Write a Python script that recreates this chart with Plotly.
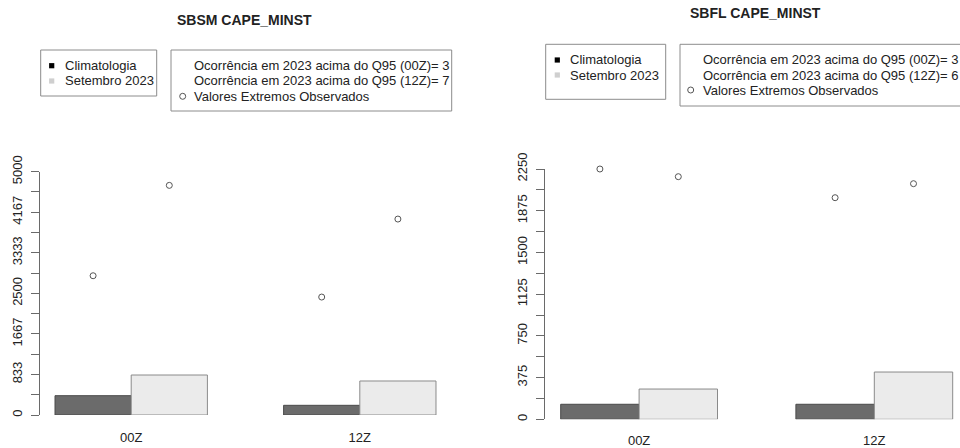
import plotly.graph_objects as go

# ---------------- data ----------------
categories = ["00Z", "12Z"]

sbsm_climatologia = [397, 199]
sbsm_setembro = [822, 699]
sbsm_ext_climatologia = [2862, 2424]
sbsm_ext_setembro = [4719, 4027]
sbsm_tick_labels = ["0", "833", "1667", "2500", "3333", "4167", "5000"]
sbsm_ymax = 5000
sbsm_q95 = [3, 7]

sbfl_climatologia = [135, 135]
sbfl_setembro = [272, 425]
sbfl_ext_climatologia = [2250, 1992]
sbfl_ext_setembro = [2181, 2118]
sbfl_tick_labels = ["0", "375", "750", "1125", "1500", "1875", "2250"]
sbfl_ymax = 2250
sbfl_q95 = [3, 6]

# ---------------- style ----------------
W, H = 960, 448
FONT = "Liberation Sans, Arial, Helvetica, sans-serif"
DARK = "#6b6b6b"
LIGHT = "#ebebeb"
EDGE = "#4a4a4a"
AXIS = "#6a6a6a"
TXT = "#222222"


def px(x):
    return x / W


def py(y):
    return 1 - y / H


fig = go.Figure()

# bar positions: groups of two bars (width 1) with one unit gap, like R barplot(beside=TRUE)
clim_x = [3 * i + 1.5 for i in range(len(categories))]
set_x = [3 * i + 2.5 for i in range(len(categories))]
cat_x = [3 * i + 2 for i in range(len(categories))]

panels = [
    dict(xa="x", ya="y", clim=sbsm_climatologia, sett=sbsm_setembro,
         ec=sbsm_ext_climatologia, es=sbsm_ext_setembro),
    dict(xa="x2", ya="y2", clim=sbfl_climatologia, sett=sbfl_setembro,
         ec=sbfl_ext_climatologia, es=sbfl_ext_setembro),
]

for p in panels:
    fig.add_trace(go.Bar(x=clim_x, y=p["clim"], width=1, xaxis=p["xa"], yaxis=p["ya"],
                         marker=dict(color=DARK, line=dict(color=EDGE, width=1)),
                         showlegend=False, name="Climatologia"))
    fig.add_trace(go.Bar(x=set_x, y=p["sett"], width=1, xaxis=p["xa"], yaxis=p["ya"],
                         marker=dict(color=LIGHT, line=dict(color="#8a8a8a", width=1)),
                         showlegend=False, name="Setembro 2023"))
    fig.add_trace(go.Scatter(x=clim_x + set_x, y=p["ec"] + p["es"], mode="markers",
                             xaxis=p["xa"], yaxis=p["ya"], cliponaxis=False,
                             marker=dict(symbol="circle-open", size=6, color="#555555",
                                         line=dict(width=1)),
                             showlegend=False, name="Valores Extremos Observados"))


def yticks(labels, ymax):
    n = (len(labels) - 1) * 2
    vals = [ymax * k / n for k in range(n + 1)]
    text = [labels[k // 2] if k % 2 == 0 else "" for k in range(n + 1)]
    return vals, text


v1, t1 = yticks(sbsm_tick_labels, sbsm_ymax)
v2, t2 = yticks(sbfl_tick_labels, sbfl_ymax)

common_x = dict(tickmode="array", tickvals=cat_x, ticktext=categories, ticks="",
                showline=False, showgrid=False, zeroline=False, automargin=False,
                tickfont=dict(family=FONT, size=13, color=TXT))
common_y = dict(tickmode="array", ticks="outside", ticklen=8, tickcolor=AXIS,
                showline=True, linecolor=AXIS, linewidth=1, showgrid=False,
                zeroline=False, tickangle=-90, automargin=False,
                tickfont=dict(family=FONT, size=13, color=TXT))

# left panel geometry (pixels)
L_x0, L_x1 = 39.76, 451.24
L_y0, L_y1 = 415.0, 171.7
# right panel geometry (pixels)
R_scale = 78.4
R_x0 = 560.7 - 0.2 * R_scale
R_xmax = 1 + (960 - 560.7) / R_scale
R_y0, R_y1 = 419.3, 169.0

fig.update_layout(
    width=W, height=H, autosize=False,
    margin=dict(l=0, r=0, t=0, b=0, pad=0),
    paper_bgcolor="white", plot_bgcolor="white",
    barmode="overlay", showlegend=False,
    font=dict(family=FONT, size=13, color=TXT),
    xaxis=dict(domain=[px(L_x0), px(L_x1)], range=[0.8, 6.2], anchor="y",
               ticklabelstandoff=13, **common_x),
    yaxis=dict(domain=[py(L_y0), py(L_y1)], range=[0, sbsm_ymax], anchor="x",
               tickvals=v1, ticktext=t1, ticklabelstandoff=4, **common_y),
    xaxis2=dict(domain=[px(R_x0), 1.0], range=[0.8, R_xmax], anchor="y2",
                ticklabelstandoff=12, **common_x),
    yaxis2=dict(domain=[py(R_y0), py(R_y1)], range=[0, sbfl_ymax], anchor="x2",
                tickvals=v2, ticktext=t2, ticklabelstandoff=4, **common_y),
)

annotations = []
shapes = []


def text(x, y, s, size=13, bold=False, anchor="left"):
    annotations.append(dict(xref="paper", yref="paper", x=px(x), y=py(y), text=("<b>%s</b>" % s) if bold else s,
                            showarrow=False, xanchor=anchor, yanchor="middle", borderpad=0,
                            font=dict(family=FONT, size=size, color=TXT)))


def box(x0, y0, x1, y1):
    shapes.append(dict(type="rect", xref="paper", yref="paper", x0=px(x0), x1=px(x1),
                       y0=py(y1), y1=py(y0), line=dict(color="#8c8c8c", width=1),
                       fillcolor="rgba(0,0,0,0)", layer="above"))


def square(cx, cy, color, s=2.6):
    shapes.append(dict(type="rect", xref="paper", yref="paper", x0=px(cx - s), x1=px(cx + s),
                       y0=py(cy + s), y1=py(cy - s), line=dict(width=0),
                       fillcolor=color, layer="above"))


def circle(cx, cy, r=3):
    shapes.append(dict(type="circle", xref="paper", yref="paper", x0=px(cx - r), x1=px(cx + r),
                       y0=py(cy + r), y1=py(cy - r), line=dict(color="#555555", width=1),
                       fillcolor="rgba(0,0,0,0)", layer="above"))


def legends(title, tx, ty, b1, b2, rows, sq_x, t1x, c_x, t2x, q95):
    text(tx, ty, title, size=14, bold=True, anchor="center")
    box(*b1)
    box(*b2)
    square(sq_x, rows[0], "#000000")
    text(t1x, rows[0], "Climatologia")
    square(sq_x, rows[1], "#cfcfcf")
    text(t1x, rows[1], "Setembro 2023")
    text(t2x, rows[0], "Ocorrência em 2023 acima do Q95 (%s)= %d" % (categories[0], q95[0]))
    text(t2x, rows[1], "Ocorrência em 2023 acima do Q95 (%s)= %d" % (categories[1], q95[1]))
    circle(c_x, rows[2])
    text(t2x, rows[2], "Valores Extremos Observados")


legends("SBSM CAPE_MINST", 245, 20, (40.7, 50, 156.7, 96), (171, 50, 451.7, 111),
        [65.7, 81.0, 96.3], 51.7, 63.5, 182.7, 192.8, sbsm_q95)
legends("SBFL CAPE_MINST", 755.7, 13, (545.7, 44.3, 665.7, 99.3), (680, 44.3, 990, 106),
        [60.0, 75.0, 90.0], 557.3, 568.5, 690.7, 701.8, sbfl_q95)

fig.update_layout(annotations=annotations, shapes=shapes)

fig.write_html(
    "out.html",
    config={"displayModeBar": False},
    post_script="document.body.style.margin='0';document.body.style.overflow='hidden';",
)
